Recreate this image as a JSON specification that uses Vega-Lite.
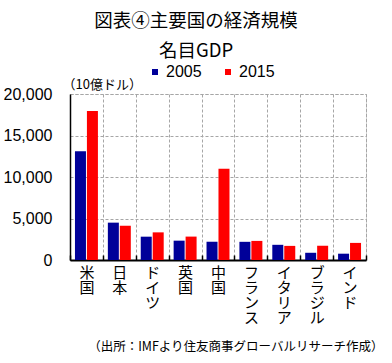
{
  "$schema": "https://vega.github.io/schema/vega-lite/v6.json",
  "width": 296,
  "height": 166,
  "autosize": {"type": "none"},
  "padding": {"left": 70, "top": 94, "right": 26, "bottom": 103},
  "background": "white",
  "title": {
    "text": "図表④主要国の経済規模",
    "subtitle": "名目GDP",
    "anchor": "middle",
    "frame": "group",
    "dx": -22,
    "offset": 4,
    "font": "Noto Sans CJK JP",
    "fontSize": 18.5,
    "fontWeight": "normal",
    "color": "black",
    "subtitleFont": "Noto Sans CJK JP",
    "subtitleFontSize": 18.5,
    "subtitleColor": "black",
    "subtitlePadding": 11
  },
  "data": {
    "values": [
      {"country": "米国", "year": "2005", "gdp": 13090},
      {"country": "米国", "year": "2015", "gdp": 17950},
      {"country": "日本", "year": "2005", "gdp": 4500},
      {"country": "日本", "year": "2015", "gdp": 4130},
      {"country": "ドイツ", "year": "2005", "gdp": 2810},
      {"country": "ドイツ", "year": "2015", "gdp": 3330},
      {"country": "英国", "year": "2005", "gdp": 2330},
      {"country": "英国", "year": "2015", "gdp": 2820},
      {"country": "中国", "year": "2005", "gdp": 2200},
      {"country": "中国", "year": "2015", "gdp": 10980},
      {"country": "フランス", "year": "2005", "gdp": 2190},
      {"country": "フランス", "year": "2015", "gdp": 2300},
      {"country": "イタリア", "year": "2005", "gdp": 1830},
      {"country": "イタリア", "year": "2015", "gdp": 1700},
      {"country": "ブラジル", "year": "2005", "gdp": 870},
      {"country": "ブラジル", "year": "2015", "gdp": 1720},
      {"country": "インド", "year": "2005", "gdp": 760},
      {"country": "インド", "year": "2015", "gdp": 2060}
    ]
  },
  "mark": {"type": "bar"},
  "encoding": {
    "x": {
      "field": "country",
      "type": "nominal",
      "sort": null,
      "scale": {"paddingInner": 0, "paddingOuter": 0},
      "axis": {
        "title": "（出所：IMFより住友商事グローバルリサーチ作成）",
        "titleX": 313,
        "titleY": 90,
        "titleAlign": "right",
        "titleBaseline": "alphabetic",
        "titleFont": "Noto Sans CJK JP",
        "titleFontSize": 12.5,
        "titleFontWeight": "normal",
        "titleColor": "black",
        "labelAngle": 0,
        "labelExpr": "split(datum.label, '')",
        "labelFont": "Noto Sans CJK JP",
        "labelFontSize": 15,
        "labelLineHeight": 15,
        "labelColor": "black",
        "labelBaseline": "top",
        "labelPadding": 10,
        "tickBand": "extent",
        "tickSize": -5,
        "tickColor": "black",
        "tickWidth": 1.5,
        "domainColor": "black",
        "domainWidth": 2,
        "grid": true,
        "gridColor": "#a6a6a6",
        "gridDash": [3, 2]
      }
    },
    "xOffset": {
      "field": "year",
      "type": "nominal",
      "scale": {"paddingInner": 0.08, "paddingOuter": 0.415}
    },
    "y": {
      "field": "gdp",
      "type": "quantitative",
      "scale": {"domain": [0, 20000], "nice": false},
      "axis": {
        "title": "（10億ドル）",
        "titleAngle": 0,
        "titleAlign": "left",
        "titleBaseline": "middle",
        "titleX": -8,
        "titleY": -10,
        "titleFont": "Noto Sans CJK JP",
        "titleFontSize": 13,
        "titleFontWeight": "normal",
        "titleColor": "black",
        "values": [0, 5000, 10000, 15000, 20000],
        "format": ",.0f",
        "labelFont": "Liberation Sans",
        "labelFontSize": 16,
        "labelColor": "black",
        "labelPadding": 18,
        "ticks": false,
        "domainColor": "black",
        "domainWidth": 1.5,
        "grid": true,
        "gridColor": "#a6a6a6",
        "gridDash": [3, 2]
      }
    },
    "color": {
      "field": "year",
      "type": "nominal",
      "scale": {"domain": ["2005", "2015"], "range": ["#000099", "#ff0000"]},
      "legend": {
        "title": null,
        "orient": "none",
        "legendX": 77,
        "legendY": -30,
        "direction": "horizontal",
        "symbolType": "square",
        "symbolSize": 36,
        "symbolStrokeWidth": 0,
        "labelFont": "Liberation Sans",
        "labelFontSize": 16,
        "labelColor": "black",
        "labelOffset": 3,
        "columnPadding": 18
      }
    }
  },
  "config": {
    "view": {"stroke": "#a6a6a6", "strokeDash": [3, 2]}
  }
}
